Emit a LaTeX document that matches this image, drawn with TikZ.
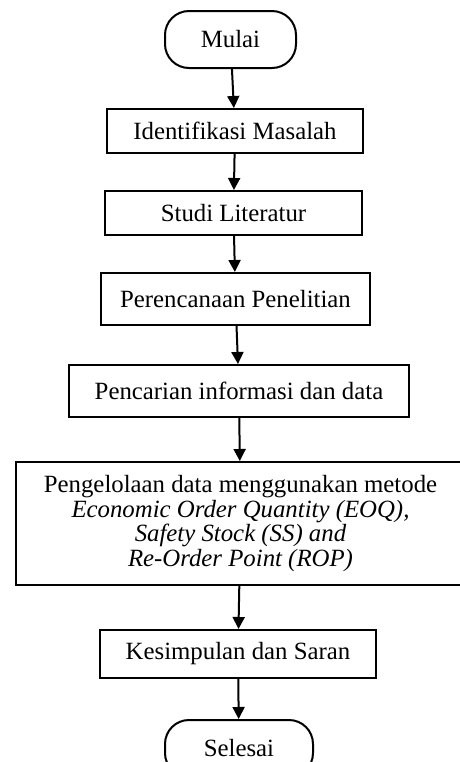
\documentclass[tikz,border=0pt]{standalone}
\usepackage{fontspec}
\setmainfont{Liberation Serif}
\usetikzlibrary{arrows.meta,positioning}

\begin{document}
\begin{tikzpicture}[
    x=0.5pt, y=-0.5pt,
    font=\fontsize{12.4}{12.4}\selectfont,
    term/.style={draw, line width=1pt, rounded corners=12pt, align=center,
      minimum height=28.5pt},
    box/.style={draw, line width=1pt, align=center, inner sep=3pt,
      minimum height=22pt},
    arr/.style={-{Triangle[width=6pt,length=6pt]}, line width=1pt},
  ]
    \useasboundingbox (0,0) rectangle (460,762);
    \node[term, minimum width=65.5pt] (mulai) at (230.5,39.5) {Mulai};
    \node[box, minimum width=128pt, below=19.5pt of mulai, xshift=2.25pt] (ident)
      {Identifikasi Masalah};
    \node[box, minimum width=128.5pt, below=18pt of ident, xshift=-0.75pt] (studi)
      {Studi Literatur};
    \node[box, minimum width=134.5pt, minimum height=26pt, below=18pt of studi,
      xshift=1pt] (peren) {Perencanaan Penelitian};
    \node[box, minimum width=170pt, minimum height=26pt, below=19pt of peren,
      xshift=1.75pt] (cari) {Pencarian informasi dan data};
    \node[box, minimum width=225pt, minimum height=61.5pt, below=21.5pt of cari,
      xshift=0.75pt] (olah) {Pengelolaan data menggunakan metode\\
      \textit{Economic Order Quantity (EOQ),}\\
      \textit{Safety Stock (SS) and}\\
      \textit{Re-Order Point (ROP)}};
    \node[box, minimum width=138pt, minimum height=24pt, below=21.5pt of olah,
      xshift=-1.25pt] (simpul) {Kesimpulan dan Saran};
    \node[term, minimum width=74pt, below=20pt of simpul, xshift=0.5pt] (selesai)
      {Selesai};

    \draw[arr] (mulai) -- (ident);
    \draw[arr] (ident) -- (studi);
    \draw[arr] (studi) -- (peren);
    \draw[arr] (peren) -- (cari);
    \draw[arr] (cari) -- (olah);
    \draw[arr] (olah) -- (simpul);
    \draw[arr] (simpul) -- (selesai);
  \end{tikzpicture}
\end{document}
